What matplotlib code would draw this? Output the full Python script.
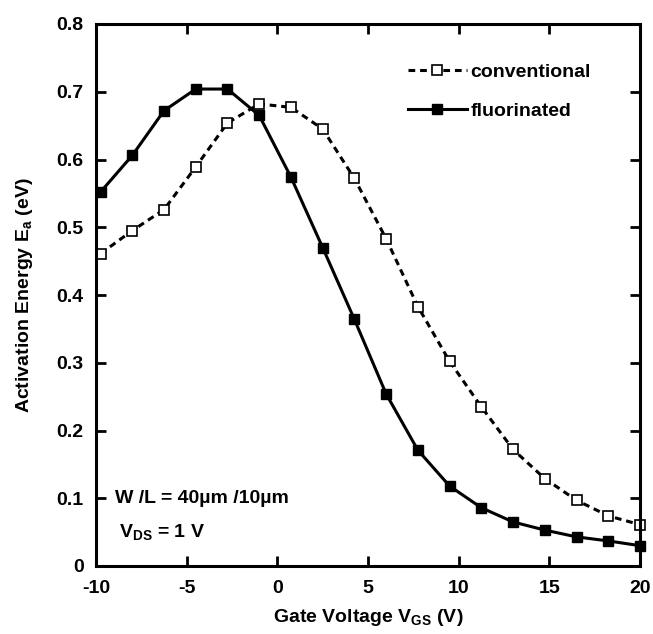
import matplotlib
matplotlib.use('Agg')
import matplotlib.pyplot as plt

# Gate voltage sweep (V)
vgs = [-9.75, -8, -6.25, -4.5, -2.75, -1, 0.75, 2.5, 4.25, 6,
       7.75, 9.5, 11.25, 13, 14.75, 16.5, 18.25, 20]
# Activation energy (eV)
ea_conventional = [0.461, 0.495, 0.526, 0.589, 0.654, 0.682, 0.677, 0.645, 0.572, 0.483,
                   0.383, 0.302, 0.235, 0.172, 0.129, 0.097, 0.074, 0.061]
ea_fluorinated = [0.552, 0.606, 0.672, 0.704, 0.704, 0.665, 0.574, 0.470, 0.364, 0.254,
                  0.171, 0.118, 0.086, 0.065, 0.053, 0.043, 0.037, 0.030]

x_ticks = [-10, -5, 0, 5, 10, 15, 20]
y_ticks = [0, 0.1, 0.2, 0.3, 0.4, 0.5, 0.6, 0.7, 0.8]
y_tick_labels = ['0', '0.1', '0.2', '0.3', '0.4', '0.5', '0.6', '0.7', '0.8']

plt.rcParams['font.family'] = ['Liberation Sans', 'DejaVu Sans']
plt.rcParams['font.weight'] = 'bold'
plt.rcParams['axes.unicode_minus'] = False

fs = 14

fig = plt.figure(figsize=(6.53, 6.34), dpi=100)
ax = fig.add_axes([96 / 653, 68 / 634, 544 / 653, 542 / 634])

ax.plot(vgs, ea_conventional, color='black', lw=2.2, ls=(0, (2.2, 1.6)),
        marker='s', ms=7, mfc='white', mec='black', mew=1.2, label='conventional',
        clip_on=False)
ax.plot(vgs, ea_fluorinated, color='black', lw=2.2, ls='-',
        marker='s', ms=7, mfc='black', mec='black', label='fluorinated',
        clip_on=False)

ax.set_xlim(-10, 20)
ax.set_ylim(0, 0.8)
ax.set_xticks(x_ticks)
ax.set_yticks(y_ticks)
ax.set_yticklabels(y_tick_labels)
ax.tick_params(direction='in', length=7, width=2, top=True, right=True,
               labelsize=fs)
ax.tick_params(axis='x', pad=10)
ax.tick_params(axis='y', pad=9)
for spine in ax.spines.values():
    spine.set_linewidth(2.2)

ax.set_xlabel('Gate Voltage V$_{\\mathregular{GS}}$ (V)', fontsize=fs, fontweight='bold')
ax.set_ylabel('Activation Energy E$_{\\mathregular{a}}$ (eV)', fontsize=fs, fontweight='bold')
ax.xaxis.set_label_coords(0.5, -0.075)
ax.yaxis.set_label_coords(-0.112, 0.5)

ax.legend(loc='upper left', frameon=False, fontsize=fs, handlelength=3.0,
          bbox_to_anchor=(0.574, 0.928), borderaxespad=0, borderpad=0,
          labelspacing=1.1, handletextpad=0.2)

ax.text(0.035, 0.124, 'W /L = 40µm /10µm', transform=ax.transAxes, fontsize=fs,
        fontweight='bold', va='center')
ax.text(0.042, 0.062, 'V$_{\\mathregular{DS}}$ = 1 V', transform=ax.transAxes, fontsize=fs,
        fontweight='bold', va='center')

plt.savefig('out.png', dpi=100)
plt.close()
